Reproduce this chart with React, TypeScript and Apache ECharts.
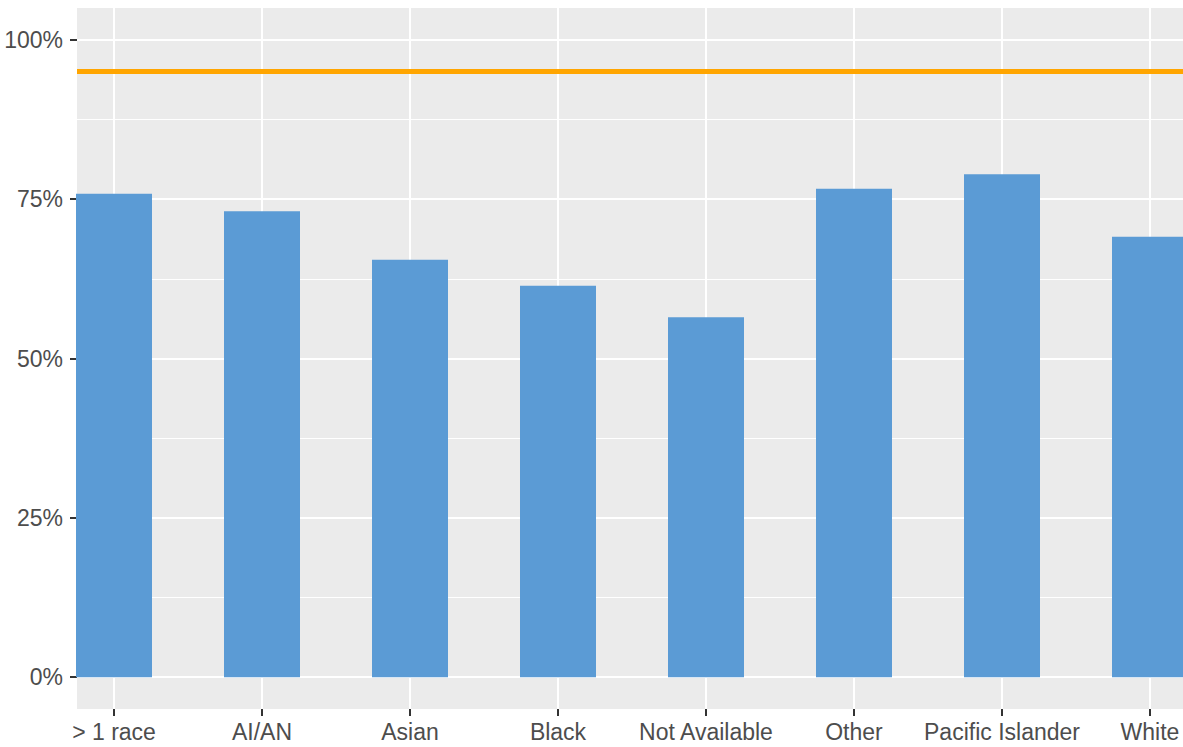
import React, { useEffect, useRef } from "react";
import * as echarts from "echarts";

const categories = [
  "> 1 race",
  "AI/AN",
  "Asian",
  "Black",
  "Not Available",
  "Other",
  "Pacific Islander",
  "White",
];
const values = [75.84, 73.1, 65.48, 61.4, 56.49, 76.62, 78.93, 69.09];
const targetValue = 95;
const yMajorTicks = [0, 25, 50, 75, 100];
const yMinorTicks = [12.5, 37.5, 62.5, 87.5];
const xPositions = categories.map((_, i) => i + 1);

const FONT = "'Liberation Sans', Arial, sans-serif";

export default function App() {
  const ref = useRef<HTMLDivElement>(null);

  useEffect(() => {
    if (!ref.current) return;
    const chart = echarts.init(ref.current, null, { renderer: "svg" });
    chart.setOption({
      animation: false,
      backgroundColor: "#FFFFFF",
      grid: {
        left: 77,
        top: 8,
        width: 1110,
        height: 701,
        show: true,
        backgroundColor: "#EBEBEB",
        borderWidth: 0,
        containLabel: false,
      },
      xAxis: {
        type: "value",
        min: 0.75,
        max: 8.25,
        axisLine: { show: false, onZero: false },
        axisTick: {
          show: true,
          customValues: xPositions,
          length: 7,
          lineStyle: { color: "#333333", width: 2 },
        },
        axisLabel: {
          show: true,
          customValues: xPositions,
          formatter: (v: number) => categories[Math.round(v) - 1] ?? "",
          color: "#4D4D4D",
          fontSize: 23,
          fontFamily: FONT,
          margin: 11,
          hideOverlap: false,
        },
        splitLine: { show: true, lineStyle: { color: "#FFFFFF", width: 2 } },
      },
      yAxis: [
        {
          type: "value",
          min: -5,
          max: 105,
          position: "left",
          axisLine: { show: false, onZero: false },
          axisTick: {
            show: true,
            customValues: yMajorTicks,
            length: 7,
            lineStyle: { color: "#333333", width: 2 },
          },
          axisLabel: {
            show: true,
            customValues: yMajorTicks,
            formatter: (v: number) => `${v}%`,
            color: "#4D4D4D",
            fontSize: 23,
            fontFamily: FONT,
            margin: 14,
          },
          splitLine: { show: true, lineStyle: { color: "#FFFFFF", width: 2 } },
        },
        {
          type: "value",
          min: -5,
          max: 105,
          position: "right",
          axisLine: { show: false, onZero: false },
          axisTick: { show: false, customValues: yMinorTicks },
          axisLabel: { show: false, customValues: yMinorTicks },
          splitLine: { show: true, lineStyle: { color: "#FFFFFF", width: 1 } },
        },
      ],
      series: [
        {
          type: "bar",
          xAxisIndex: 0,
          yAxisIndex: 0,
          barWidth: 76,
          data: values.map((v, i) => [xPositions[i], v]),
          itemStyle: { color: "#5B9BD5" },
          silent: true,
          markLine: {
            silent: true,
            symbol: "none",
            label: { show: false },
            lineStyle: { color: "#FFA500", width: 5, type: "solid" },
            data: [{ yAxis: targetValue }],
          },
        },
      ],
    });
    return () => chart.dispose();
  }, []);

  return (
    <div
      style={{
        position: "absolute",
        left: 0,
        top: 0,
        width: 1183,
        height: 747,
        overflow: "hidden",
        background: "#FFFFFF",
      }}
    >
      <div ref={ref} style={{ width: 1200, height: 747 }} />
    </div>
  );
}
